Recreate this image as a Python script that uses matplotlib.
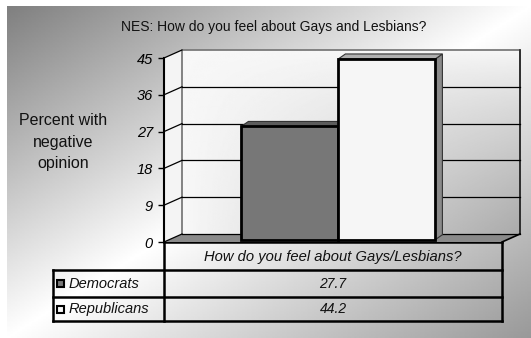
import numpy as np
import matplotlib
matplotlib.use("Agg")
import matplotlib.pyplot as plt
from matplotlib.patches import Polygon, Rectangle

plt.rcParams['font.family'] = ['Liberation Sans', 'DejaVu Sans']

# Data
title = "NES: How do you feel about Gays and Lesbians?"
category = "How do you feel about Gays/Lesbians?"
series = ["Democrats", "Republicans"]
values = [27.7, 44.2]
y_ticks = [0, 9, 18, 27, 36, 45]
y_label = "Percent with\nnegative\nopinion"

# Styles
front_colors = ["#777777", "#f6f6f6"]
top_colors = ["#5c5c5c", "#b0b0b0"]
side_colors = ["#555555", "#8a8a8a"]
W, H = 531, 338

fig = plt.figure(figsize=(W / 100, H / 100), dpi=100)

# background axes in pixel units
bg = fig.add_axes([0, 0, 1, 1])
bg.set_xlim(0, W)
bg.set_ylim(H, 0)
bg.axis('off')

xx, yy = np.meshgrid(np.linspace(0, 1, 300), np.linspace(0, 1, 200))
u = xx + yy - 1
shade = np.where(u < 0, 1 - 0.5 * np.abs(u), 1 - 0.4 * np.abs(u))
bg.imshow(shade, cmap='gray', vmin=0, vmax=1, extent=[7, W, H, 6],
          aspect='auto', zorder=0, interpolation='bilinear')
bg.set_xlim(0, W)
bg.set_ylim(H, 0)

bg.text(274, 27, title, ha='center', va='center', fontsize=10, color='#111111')
bg.text(63, 142, y_label, ha='center', va='center', fontsize=11.5,
        linespacing=1.55, color='#111111')

# chart axes: front plane of the 3D box
left, right, bottom, top = 164, 502, 242, 58
ax = fig.add_axes([left / W, 1 - bottom / H, (right - left) / W, (bottom - top) / H])
ax.set_zorder(2)
ax.patch.set_visible(False)
ymax = y_ticks[-1]
DX = 18 / (right - left)
DY = 8 / ((bottom - top) / ymax)

# back wall gradient (light at top-left, grey towards bottom-right)
wx, wy = np.meshgrid(np.linspace(0, 1, 200), np.linspace(0, 1, 200))
wall = 0.97 - 0.3 * wx * wy ** 0.8
ax.imshow(wall, cmap='gray', vmin=0, vmax=1, extent=[DX, 1 + DX, DY, ymax + DY],
          aspect='auto', origin='upper', zorder=0, clip_on=False,
          interpolation='bilinear')

# left wall and floor
ax.add_patch(Polygon([(0, 0), (DX, DY), (DX, ymax + DY), (0, ymax)],
                     closed=True, facecolor='#f4f4f4', edgecolor='none',
                     zorder=0.5, clip_on=False))
ax.add_patch(Polygon([(0, 0), (1, 0), (1 + DX, DY), (DX, DY)], closed=True,
                     facecolor='#8a8a8a', edgecolor='none', zorder=0.5,
                     clip_on=False))

# wall outline
ax.plot([DX, DX, 1 + DX, 1 + DX], [DY, ymax + DY, ymax + DY, DY],
        color='#7a7a7a', lw=1.3, zorder=1, clip_on=False)
ax.plot([1 + DX, 1 + DX], [DY, ymax + DY], color='#222222', lw=1.2,
        zorder=1, clip_on=False)
ax.plot([1, 1 + DX], [0, DY], color='black', lw=1.2, zorder=1, clip_on=False)

# gridlines on back and left walls
for t in y_ticks[:-1]:
    ax.plot([DX, 1 + DX], [t + DY, t + DY], color='black', lw=0.9,
            zorder=1, clip_on=False)
for t in y_ticks:
    ax.plot([0, DX], [t, t + DY], color='black', lw=0.9, zorder=1, clip_on=False)

# bars
bar_w = 0.287
sx, sy = 0.3 * DX, 0.3 * DY
bdx, bdy = 7 / (right - left), 1.2
for i, v in enumerate(values):
    x0 = 0.5 - bar_w + i * bar_w + sx
    x1 = x0 + bar_w
    y0 = sy
    y1 = v + sy
    z = 3 + i
    ax.add_patch(Polygon([(x1, y0), (x1 + bdx, y0 + bdy), (x1 + bdx, y1 + bdy), (x1, y1)],
                         closed=True, facecolor=side_colors[i], edgecolor='#333333',
                         lw=0.8, zorder=z, clip_on=False))
    ax.add_patch(Polygon([(x0, y1), (x1, y1), (x1 + bdx, y1 + bdy), (x0 + bdx, y1 + bdy)],
                         closed=True, facecolor=top_colors[i], edgecolor='#333333',
                         lw=0.8, zorder=z, clip_on=False))
    ax.add_patch(Rectangle((x0, y0), bar_w, v, facecolor=front_colors[i],
                           edgecolor='black', lw=2, zorder=z + 0.1, clip_on=False))

ax.set_xlim(0, 1)
ax.set_ylim(0, ymax)
ax.set_yticks(y_ticks)
ax.set_yticklabels([str(t) for t in y_ticks], fontsize=10.5, style='italic')
ax.tick_params(axis='y', length=4, width=1, pad=4, direction='out')
ax.set_xticks([])
for s in ['top', 'right', 'bottom']:
    ax.spines[s].set_visible(False)
ax.spines['left'].set_linewidth(1.5)
ax.spines['left'].set_zorder(6)

# data table (pixel units)
tab_l, tab_m, tab_r = 53, 164, 502
row_y = [242, 270, 297, 321]
lw = 1.8
bg.plot([tab_m, tab_r], [row_y[0], row_y[0]], color='black', lw=lw, zorder=5)
for y in row_y[1:]:
    bg.plot([tab_l, tab_r], [y, y], color='black', lw=lw, zorder=5)
bg.plot([tab_l, tab_l], [row_y[1], row_y[3]], color='black', lw=lw, zorder=5)
bg.plot([tab_m, tab_m], [row_y[0], row_y[3]], color='black', lw=lw, zorder=5)
bg.plot([tab_r, tab_r], [row_y[0], row_y[3]], color='black', lw=lw, zorder=5)
bg.text((tab_m + tab_r) / 2, (row_y[0] + row_y[1]) / 2 + 1, category,
        ha='center', va='center', fontsize=10.6, style='italic', color='#111111')
for i, name in enumerate(series):
    yc = (row_y[i + 1] + row_y[i + 2]) / 2
    bg.add_patch(Rectangle((57, yc - 3.5), 7, 7, facecolor=front_colors[i],
                           edgecolor='black', lw=1.5, zorder=5))
    bg.text(69, yc, name, ha='left', va='center', fontsize=10.5,
            style='italic', color='#111111')
    bg.text((tab_m + tab_r) / 2, yc, f"{values[i]:.1f}", ha='center',
            va='center', fontsize=10, style='italic', color='#111111')

fig.savefig("out.png", dpi=100)
